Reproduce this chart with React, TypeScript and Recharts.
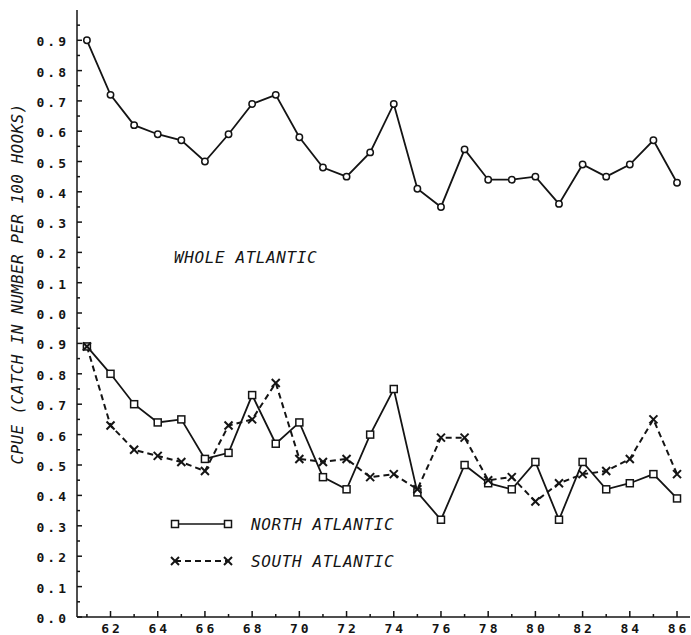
import React from 'react';
import { LineChart, Line, XAxis, YAxis } from 'recharts';

const years = [61, 62, 63, 64, 65, 66, 67, 68, 69, 70, 71, 72, 73, 74, 75, 76, 77, 78, 79, 80, 81, 82, 83, 84, 85, 86];
const wholeAtlantic = [0.90, 0.72, 0.62, 0.59, 0.57, 0.50, 0.59, 0.69, 0.72, 0.58, 0.48, 0.45, 0.53, 0.69, 0.41, 0.35, 0.54, 0.44, 0.44, 0.45, 0.36, 0.49, 0.45, 0.49, 0.57, 0.43];
const northAtlantic = [0.89, 0.80, 0.70, 0.64, 0.65, 0.52, 0.54, 0.73, 0.57, 0.64, 0.46, 0.42, 0.60, 0.75, 0.41, 0.32, 0.50, 0.44, 0.42, 0.51, 0.32, 0.51, 0.42, 0.44, 0.47, 0.39];
const southAtlantic = [0.89, 0.63, 0.55, 0.53, 0.51, 0.48, 0.63, 0.65, 0.77, 0.52, 0.51, 0.52, 0.46, 0.47, 0.42, 0.59, 0.59, 0.45, 0.46, 0.38, 0.44, 0.47, 0.48, 0.52, 0.65, 0.47];
const yTicks = [0, 0.05, 0.1, 0.15, 0.2, 0.25, 0.3, 0.35, 0.4, 0.45, 0.5, 0.55, 0.6, 0.65, 0.7, 0.75, 0.8, 0.85, 0.9, 0.95];

const topData = years.map((year, i) => ({ year, whole: wholeAtlantic[i] }));
const bottomData = years.map((year, i) => ({ year, north: northAtlantic[i], south: southAtlantic[i] }));

const INK = '#141414';
const FONT = '"DejaVu Sans Mono", monospace';

const YearTick = (props: any) => {
  const { x, y, payload, showLabel } = props;
  const major = payload.value % 2 === 0;
  return (
    <g>
      <line x1={x} y1={y} x2={x} y2={y - (major ? 6 : 3)} stroke={INK} strokeWidth={1.5} />
      {showLabel && major && (
        <text x={x + 1.5} y={y + 16} textAnchor="middle" fontFamily={FONT} fontWeight="bold" fontSize={13} letterSpacing={3} fill={INK}>
          {payload.value}
        </text>
      )}
    </g>
  );
};

const ValueTick = (props: any) => {
  const { x, y, payload } = props;
  const v = payload.value;
  const major = Math.abs(v * 10 - Math.round(v * 10)) < 0.01;
  return (
    <g>
      <line x1={x} y1={y} x2={x + (major ? 5 : 3)} y2={y} stroke={INK} strokeWidth={1.5} />
      {major && (
        <text x={x - 8} y={y + 6} textAnchor="end" fontFamily={FONT} fontWeight="bold" fontSize={13} letterSpacing={3} fill={INK}>
          {v.toFixed(1)}
        </text>
      )}
    </g>
  );
};

const CircleDot = (props: any) => {
  const { cx, cy, index } = props;
  return <circle key={index} cx={cx} cy={cy} r={3.2} fill="#fff" stroke={INK} strokeWidth={1.5} />;
};

const SquareDot = (props: any) => {
  const { cx, cy, index } = props;
  return <rect key={index} x={cx - 3.5} y={cy - 3.5} width={7} height={7} fill="#fff" stroke={INK} strokeWidth={1.5} />;
};

const CrossDot = (props: any) => {
  const { cx, cy, index } = props;
  return (
    <g key={index}>
      <line x1={cx - 4} y1={cy - 4} x2={cx + 4} y2={cy + 4} stroke={INK} strokeWidth={2} />
      <line x1={cx - 4} y1={cy + 4} x2={cx + 4} y2={cy - 4} stroke={INK} strokeWidth={2} />
    </g>
  );
};

const series = [
  { key: 'north', name: 'NORTH ATLANTIC', dash: undefined, Dot: SquareDot },
  { key: 'south', name: 'SOUTH ATLANTIC', dash: '6 4', Dot: CrossDot },
];

const LegendBox = () => (
  <svg width={240} height={60} style={{ overflow: 'visible' }}>
    {series.map((s, i) => {
      const y = 11 + i * 37;
      return (
        <g key={s.key}>
          <line x1={5} y1={y} x2={58} y2={y} stroke={INK} strokeWidth={s.dash ? 2 : 1.5} strokeDasharray={s.dash} />
          <s.Dot cx={5} cy={y} />
          <s.Dot cx={58} cy={y} />
          <text x={81} y={y + 6} fontFamily={FONT} fontStyle="italic" fontSize={16} letterSpacing={0.6} fill={INK}>{s.name}</text>
        </g>
      );
    })}
  </svg>
);

const xDomain = [60.58, 86.55];

export default function App() {
  return (
    <div style={{ position: 'absolute', left: 0, top: 0, width: 691, height: 635, background: '#fff' }}>
      <div style={{ position: 'absolute', left: 0, top: 0 }}>
        <LineChart width={691} height={330} data={topData} margin={{ top: 10, right: 1, bottom: 17, left: 0 }}>
          <XAxis dataKey="year" type="number" domain={xDomain} ticks={years} interval={0} allowDataOverflow
            height={0} tickSize={0} tickMargin={0} tickLine={false} axisLine={{ stroke: INK, strokeWidth: 1.5 }}
            tick={<YearTick showLabel={false} />} />
          <YAxis domain={[0, 1]} ticks={yTicks} interval={0} width={77} tickSize={0} tickMargin={0} tickLine={false}
            axisLine={{ stroke: INK, strokeWidth: 1.5 }} tick={<ValueTick />} />
          <Line dataKey="whole" stroke={INK} strokeWidth={1.8} dot={<CircleDot />} isAnimationActive={false} />
        </LineChart>
      </div>
      <div style={{ position: 'absolute', left: 0, top: 313 }}>
        <LineChart width={691} height={322} data={bottomData} margin={{ top: 0, right: 1, bottom: 0, left: 0 }}>
          <XAxis dataKey="year" type="number" domain={xDomain} ticks={years} interval={0} allowDataOverflow
            height={18} tickSize={0} tickMargin={0} tickLine={false} axisLine={{ stroke: INK, strokeWidth: 1.5 }}
            tick={<YearTick showLabel />} />
          <YAxis domain={[0, 1]} ticks={yTicks} interval={0} width={77} tickSize={0} tickMargin={0} tickLine={false}
            axisLine={{ stroke: INK, strokeWidth: 1.5 }} tick={<ValueTick />} />
          {series.map((s) => (
            <Line key={s.key} dataKey={s.key} name={s.name} stroke={INK} strokeWidth={s.dash ? 2 : 1.8}
              strokeDasharray={s.dash} dot={<s.Dot />} isAnimationActive={false} />
          ))}
        </LineChart>
      </div>
      <div style={{ position: 'absolute', left: 170, top: 513 }}>
        <LegendBox />
      </div>
      <div style={{ position: 'absolute', left: 174, top: 248, fontFamily: FONT, fontStyle: 'italic', fontSize: 16, letterSpacing: 0.6, color: INK }}>
        WHOLE ATLANTIC
      </div>
      <div style={{ position: 'absolute', left: 17, top: 284, width: 0, height: 0 }}>
        <div style={{ position: 'absolute', transform: 'translate(-50%, -50%) rotate(-90deg)', whiteSpace: 'nowrap', fontFamily: FONT, fontStyle: 'italic', fontSize: 16, letterSpacing: 0.4, color: INK }}>
          CPUE (CATCH IN NUMBER PER 100 HOOKS)
        </div>
      </div>
    </div>
  );
}
